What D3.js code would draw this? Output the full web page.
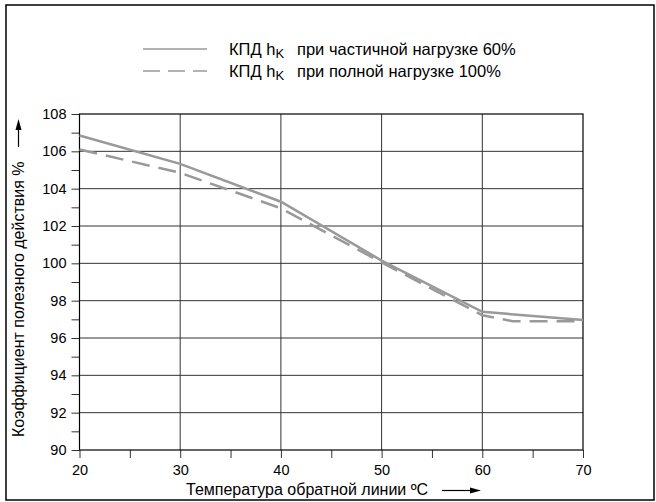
<!DOCTYPE html>
<html>
<head>
<meta charset="utf-8">
<script src="https://cdn.jsdelivr.net/npm/d3@7"></script>
<style>
  body { margin: 0; background: #fff; }
  svg { display: block; font-family: "Liberation Sans", Arial, sans-serif; }
</style>
</head>
<body>
<svg width="656" height="502"></svg>
<script>
// values
var tempsPartial = [20, 30, 40, 50, 60, 70],
    effPartial   = [106.85, 105.33, 103.3, 100.15, 97.4, 96.97];
var tempsFull = [20, 30, 40, 50, 60, 63, 70],
    effFull   = [106.1, 104.85, 102.95, 100.05, 97.22, 96.9, 96.9];
var xTicks = [20, 30, 40, 50, 60, 70],
    xMinor = [25, 35, 45, 55, 65],
    yTicks = [90, 92, 94, 96, 98, 100, 102, 104, 106, 108],
    yMinor = [91, 93, 95, 97, 99, 101, 103, 105, 107];
var legendLabels = ["при частичной нагрузке 60%", "при полной нагрузке 100%"];

var svg = d3.select("svg"),
    margin = {top: 114, right: 73, bottom: 52, left: 79.5},
    width = 656 - margin.left - margin.right,
    height = 502 - margin.top - margin.bottom;

var x = d3.scaleLinear().domain([20, 70]).range([0, width]),
    y = d3.scaleLinear().domain([90, 108]).range([height, 0]);

// outer frame
svg.append("rect")
    .attr("x", 6).attr("y", 5)
    .attr("width", 648).attr("height", 495)
    .attr("fill", "none")
    .attr("stroke", "#000")
    .attr("stroke-width", 1.5);

var g = svg.append("g")
    .attr("transform", "translate(" + margin.left + "," + margin.top + ")");

// grid
g.selectAll(".vgrid")
    .data(xTicks.slice(1, -1))
  .enter().append("line")
    .attr("x1", function(d) { return x(d); })
    .attr("x2", function(d) { return x(d); })
    .attr("y1", 0).attr("y2", height)
    .attr("stroke", "#333").attr("stroke-width", 1);

g.selectAll(".hgrid")
    .data(yTicks.slice(1, -1))
  .enter().append("line")
    .attr("y1", function(d) { return y(d); })
    .attr("y2", function(d) { return y(d); })
    .attr("x1", 0).attr("x2", width)
    .attr("stroke", "#333").attr("stroke-width", 1);

// axes
var xAxis = g.append("g")
    .attr("transform", "translate(0," + height + ")")
    .call(d3.axisBottom(x).tickValues(xTicks.concat(xMinor)).tickSize(8)
      .tickFormat(function(d) { return xTicks.indexOf(d) >= 0 ? d : ""; }));
var yAxis = g.append("g")
    .call(d3.axisLeft(y).tickValues(yTicks.concat(yMinor)).tickSize(8)
      .tickFormat(function(d) { return yTicks.indexOf(d) >= 0 ? d : ""; }));

[xAxis, yAxis].forEach(function(a) {
  a.select(".domain").remove();
  a.selectAll("line").attr("stroke", "#333");
  a.selectAll("text")
      .attr("fill", "#000")
      .style("font-size", "14.5px")
      .style("font-family", "Liberation Sans, Arial, sans-serif");
});
xAxis.selectAll("text").attr("y", 15);
yAxis.selectAll("text").attr("x", -13);

// plot border
g.append("rect")
    .attr("width", width).attr("height", height)
    .attr("fill", "none")
    .attr("stroke", "#000").attr("stroke-width", 1.2);

// series
var line = d3.line()
    .x(function(d) { return x(d[0]); })
    .y(function(d) { return y(d[1]); });

g.append("path")
    .datum(d3.zip(tempsPartial, effPartial))
    .attr("d", line)
    .attr("fill", "none")
    .attr("stroke", "#999")
    .attr("stroke-width", 2.5);

g.append("path")
    .datum(d3.zip(tempsFull, effFull))
    .attr("d", line)
    .attr("fill", "none")
    .attr("stroke", "#999")
    .attr("stroke-width", 2.5)
    .attr("stroke-dasharray", "18,9");

// legend
var legend = svg.append("g");
var legendY = [49, 71];
legendLabels.forEach(function(lbl, i) {
  legend.append("line")
      .attr("x1", 143).attr("x2", 207)
      .attr("y1", legendY[i]).attr("y2", legendY[i])
      .attr("stroke", "#999")
      .attr("stroke-width", 1.5)
      .attr("stroke-dasharray", i ? "17,8" : null);
  var t = legend.append("text")
      .attr("x", 229).attr("y", legendY[i] + 6)
      .style("font-size", "16.5px");
  t.append("tspan").text("КПД h");
  t.append("tspan").attr("dy", 3).style("font-size", "13px").text("K");
  t.append("tspan").attr("x", 297).attr("dy", -3).text(lbl);
});

// axis titles
svg.append("text")
    .attr("x", 186).attr("y", 495)
    .style("font-size", "16px")
    .text("Температура обратной линии ºС");
svg.append("line")
    .attr("x1", 442).attr("x2", 472)
    .attr("y1", 490.5).attr("y2", 490.5)
    .attr("stroke", "#000").attr("stroke-width", 1.2);
svg.append("path")
    .attr("d", "M481,490.5L470,487.5L470,493.5Z")
    .attr("fill", "#000");

svg.append("text")
    .attr("transform", "translate(24,437) rotate(-90)")
    .style("font-size", "16px")
    .text("Коэффициент полезного действия %");
svg.append("line")
    .attr("x1", 18.5).attr("x2", 18.5)
    .attr("y1", 147).attr("y2", 128)
    .attr("stroke", "#000").attr("stroke-width", 1.2);
svg.append("path")
    .attr("d", "M18.5,119L15.5,130L21.5,130Z")
    .attr("fill", "#000");
</script>
</body>
</html>
